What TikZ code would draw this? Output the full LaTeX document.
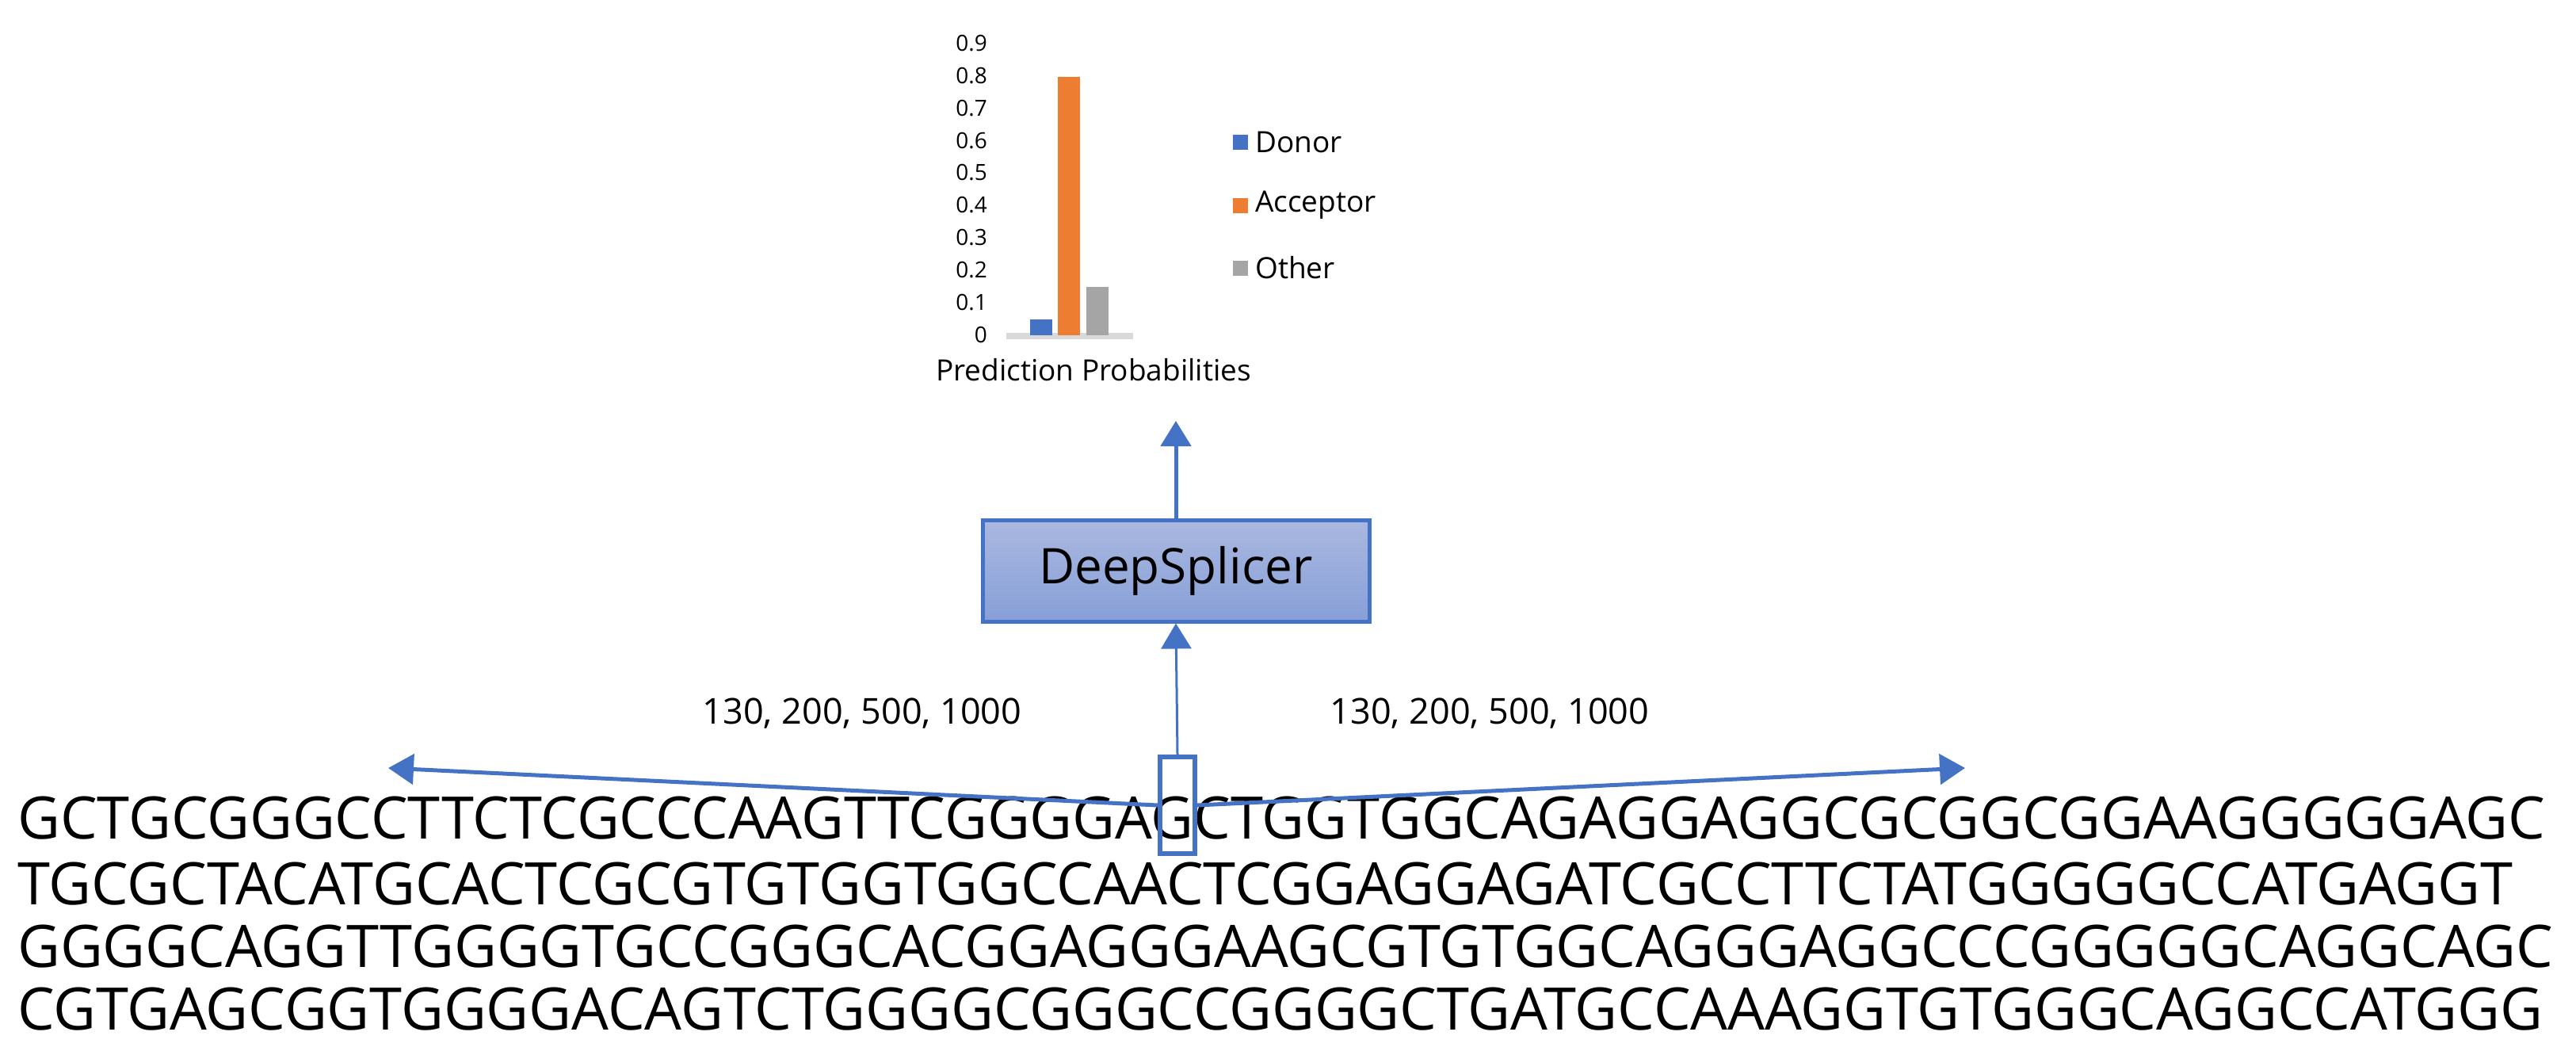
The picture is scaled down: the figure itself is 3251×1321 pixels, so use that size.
\documentclass[tikz,border=0pt]{standalone}
\usepackage{fontspec}
\setmainfont{Open Sans}
\usetikzlibrary{arrows.meta}
\definecolor{cblue}{HTML}{4472C4}
\definecolor{corange}{HTML}{ED7D31}
\definecolor{cgray}{HTML}{A5A5A5}
\definecolor{caxis}{HTML}{D9D9D9}
\definecolor{gtop}{HTML}{AAB8E0}
\definecolor{gbot}{HTML}{879FD7}
\tikzset{
  seq/.style={anchor=west,inner sep=0pt,font=\fontsize{74}{80}\selectfont},
  tick/.style={anchor=east,inner sep=0pt,font=\fontsize{28}{30}\selectfont},
  leg/.style={anchor=west,inner sep=0pt,font=\fontsize{37}{40}\selectfont},
  conn/.style={draw=cblue,line width=5pt,-{Triangle[length=32pt,width=38pt]}},
  lab/.style={inner sep=0pt,font=\fontsize{45}{50}\selectfont}
}
\begin{document}
\begin{tikzpicture}[x=1pt,y=-1pt]
\useasboundingbox (0,0) rectangle (3251,1321);
% chart
\foreach \v/\t in {0/0,1/0.1,2/0.2,3/0.3,4/0.4,5/0.5,6/0.6,7/0.7,8/0.8,9/0.9}
  \node[tick] (t\v) at (1246,{422-40.8*\v}) {\t};
\fill[caxis] (1270,420) rectangle (1430,428);
\fill[cblue] (1300,423) rectangle (1328,403);
\fill[corange] (1335,423) rectangle (1363,97);
\fill[cgray] (1371,423) rectangle (1399,362);
\fill[cblue] (1556,170) rectangle (1575,189);
\fill[corange] (1556,250) rectangle (1575,269);
\fill[cgray] (1556,329) rectangle (1575,348);
\node[leg] (ld) at (1584,179) {Donor};
\node[leg] (la) at (1584,259) {Acceptor};
\node[leg] (lo) at (1584,338) {Other};
\node[inner sep=0pt,font=\fontsize{37}{40}\selectfont] (chart) at (1380,467) {Prediction Probabilities};
\coordinate (top) at (1484,531);
% model
\node[draw=cblue,line width=5pt,top color=gtop,bottom color=gbot,minimum width=488pt,minimum height=128pt,inner sep=0pt,font=\fontsize{62}{66}\selectfont] (ds) at (1484,720) {DeepSplicer};
\draw[conn] (ds.north) -- (top);
% sequence
\node[seq] (r1) at (22,1032) {GCTGCGGGCCTTCTCGCCCAAGTTCGGGGAGCTGGTGGCAGAGGAGGCGCGGCGGAAGGGGGAGC};
\node[seq] (r2) at (22,1115) {TGCGCTACATGCACTCGCGTGTGGTGGCCAACTCGGAGGAGATCGCCTTCTATGGGGGCCATGAGGT};
\node[seq] (r3) at (22,1194) {GGGGCAGGTTGGGGTGCCGGGCACGGAGGGAAGCGTGTGGCAGGGAGGCCCGGGGGCAGGCAGC};
\node[seq] (r4) at (22,1273) {CGTGAGCGGTGGGGACAGTCTGGGGCGGGCCGGGGCTGATGCCAAAGGTGTGGGCAGGCCATGGG};
\node[draw=cblue,line width=6pt,minimum width=44pt,minimum height=122pt,inner sep=0pt] (g) at (1486,1016) {};
\coordinate (lt) at (490,969);
\coordinate (rt) at (2480,969);
\draw[conn] (g.west) -- (lt);
\draw[conn] (g.east) -- (rt);
\draw[conn,line width=3pt] (g.north) -- (ds.south);
\node[lab] (l1) at (1088,900) {130, 200, 500, 1000};
\node[lab] (l2) at (1880,900) {130, 200, 500, 1000};
\end{tikzpicture}
\end{document}
